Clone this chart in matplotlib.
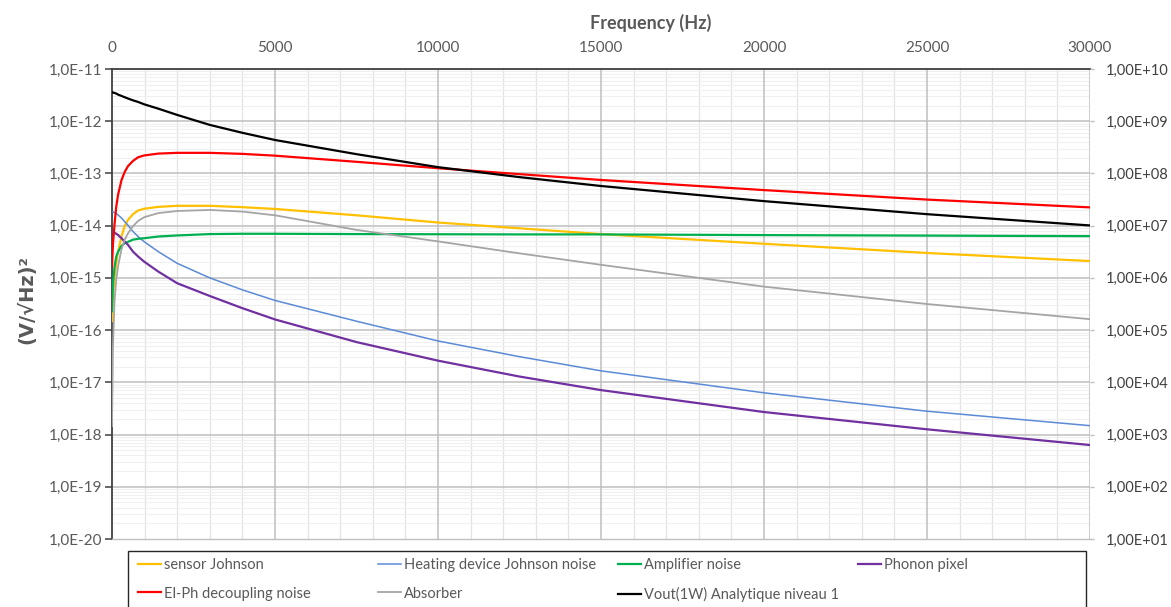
import math
import matplotlib
matplotlib.use("Agg")
import matplotlib.pyplot as plt
from matplotlib.ticker import FixedLocator, FuncFormatter, LogLocator, NullFormatter, MultipleLocator
from matplotlib.patches import Rectangle

plt.rcParams['font.family'] = ['Lato', 'DejaVu Sans']

# ---------------- data ----------------
freq = [0, 30, 80, 130, 185, 290, 390, 490, 645, 800, 985, 1420, 2000, 3000, 4000,
        5000, 7500, 10000, 12500, 15000, 20000, 25000, 30000]

sensor_johnson = [1.48e-16, 4.4e-16, 1.07e-15, 1.91e-15, 3.16e-15, 6.2e-15, 9.8e-15, 1.29e-14,
                  1.66e-14, 1.95e-14, 2.11e-14, 2.29e-14, 2.40e-14, 2.40e-14, 2.26e-14,
                  2.09e-14, 1.58e-14, 1.15e-14, 8.9e-15, 6.9e-15, 4.5e-15, 3.0e-15, 2.1e-15]
heating_johnson = [1.86e-14, 1.84e-14, 1.78e-14, 1.70e-14, 1.60e-14, 1.41e-14, 1.19e-14, 1.02e-14,
                   7.7e-15, 6.2e-15, 4.94e-15, 3.18e-15, 1.90e-15, 1.0e-15, 5.9e-16,
                   3.7e-16, 1.48e-16, 6.2e-17, 3.1e-17, 1.66e-17, 6.3e-18, 2.8e-18, 1.48e-18]
amplifier_noise = [2.3e-16, 7.9e-16, 1.66e-15, 2.57e-15, 3.16e-15, 4.1e-15, 4.6e-15, 4.9e-15,
                   5.4e-15, 5.6e-15, 5.75e-15, 6.2e-15, 6.5e-15, 6.9e-15, 7.0e-15,
                   7.0e-15, 6.9e-15, 6.85e-15, 6.8e-15, 6.8e-15, 6.6e-15, 6.45e-15, 6.3e-15]
phonon_pixel = [7.7e-15, 7.6e-15, 7.3e-15, 7.0e-15, 6.64e-15, 5.75e-15, 4.94e-15, 4.3e-15,
                3.18e-15, 2.57e-15, 2.05e-15, 1.32e-15, 7.9e-16, 4.5e-16, 2.63e-16,
                1.6e-16, 5.9e-17, 2.6e-17, 1.29e-17, 7.1e-18, 2.7e-18, 1.26e-18, 6.3e-19]
elph_noise = [1.66e-15, 4.5e-15, 1.11e-14, 2.29e-14, 3.89e-14, 7.41e-14, 1.07e-13, 1.38e-13,
              1.74e-13, 2.04e-13, 2.21e-13, 2.40e-13, 2.48e-13, 2.48e-13, 2.37e-13,
              2.19e-13, 1.67e-13, 1.26e-13, 9.7e-14, 7.5e-14, 4.8e-14, 3.16e-14, 2.24e-14]
absorber = [1.45e-18, 5.0e-17, 3.8e-16, 9.1e-16, 1.66e-15, 3.5e-15, 5.4e-15, 7.1e-15,
            9.8e-15, 1.23e-14, 1.45e-14, 1.74e-14, 1.91e-14, 2.0e-14, 1.86e-14,
            1.58e-14, 8.3e-15, 5.0e-15, 2.95e-15, 1.78e-15, 6.8e-16, 3.16e-16, 1.62e-16]
# secondary (right) axis series
vout = [3.58e9, 3.55e9, 3.47e9, 3.39e9, 3.24e9, 3.05e9, 2.88e9, 2.72e9,
        2.51e9, 2.34e9, 2.11e9, 1.74e9, 1.32e9, 8.5e8, 6.0e8,
        4.37e8, 2.34e8, 1.32e8, 8.5e7, 5.75e7, 2.95e7, 1.66e7, 1.01e7]

labels = ["sensor Johnson", "Heating device Johnson noise", "Amplifier noise", "Phonon pixel",
          "El-Ph decoupling noise", "Absorber", "Vout(1W) Analytique niveau 1"]
x_ticks = [0, 5000, 10000, 15000, 20000, 25000, 30000]

# ---------------- figure ----------------
W, H = 1171, 607
fig = plt.figure(figsize=(W / 100, H / 100), dpi=100)
L, R, T, B = 112, 1090, 69, 539
ax = fig.add_axes([L / W, 1 - B / H, (R - L) / W, (B - T) / H])

TXT = "#595959"
series = [
    (sensor_johnson, "#FFC000", 1.6, labels[0]),
    (heating_johnson, "#5B8BD6", 1.1, labels[1]),
    (amplifier_noise, "#00B050", 1.6, labels[2]),
    (phonon_pixel, "#7030A0", 1.6, labels[3]),
    (elph_noise, "#FF0000", 1.6, labels[4]),
    (absorber, "#A5A5A5", 1.3, labels[5]),
]
handles = {}
for vals, col, lw, lab in series:
    ln, = ax.plot(freq, vals, color=col, lw=lw, label=lab, zorder=3)
    handles[lab] = ln

ax.set_yscale('log')
ax.set_ylim(1e-20, 1e-11)
ax.set_xlim(0, 30000)

ax2 = ax.twinx()
ln, = ax2.plot(freq, vout, color="#000000", lw=1.6, label=labels[6], zorder=3)
handles[labels[6]] = ln
ax2.set_yscale('log')
ax2.set_ylim(1e1, 1e10)

# ticks / grid
ax.xaxis.set_major_locator(FixedLocator(x_ticks))
ax.xaxis.set_minor_locator(MultipleLocator(1000))
ax.yaxis.set_major_locator(LogLocator(base=10, numticks=20))
ax.yaxis.set_minor_locator(LogLocator(base=10, subs=range(2, 10), numticks=200))
ax.yaxis.set_minor_formatter(NullFormatter())
ax.grid(which='minor', axis='x', color="#E3E3E3", lw=0.9, zorder=0)
ax.grid(which='minor', axis='y', color="#F0F0F0", lw=0.8, zorder=0)
ax.set_axisbelow(True)
# major grid drawn over the minor grid (spreadsheet style)
for xv in x_ticks[1:]:
    ax.axvline(xv, color="#BFBFBF", lw=1.1, zorder=1)
for yv in ax.get_yticks():
    if 1e-20 < yv <= 1e-11:
        ax.axhline(yv, color="#BFBFBF", lw=1.1, zorder=1)

ax.yaxis.set_major_formatter(FuncFormatter(lambda v, p: "1,0E%+03d" % round(math.log10(v))))
ax2.yaxis.set_major_locator(LogLocator(base=10, numticks=20))
ax2.yaxis.set_minor_locator(LogLocator(base=10, subs=range(2, 10), numticks=200))
ax2.yaxis.set_minor_formatter(NullFormatter())
ax2.yaxis.set_major_formatter(FuncFormatter(lambda v, p: "1,00E%+03d" % round(math.log10(v))))
ax.xaxis.set_major_formatter(FuncFormatter(lambda v, p: "%d" % v))

ax.tick_params(axis='x', which='both', top=True, bottom=False, labeltop=True, labelbottom=False,
               length=0, pad=10, labelsize=11, labelcolor=TXT)
ax.tick_params(axis='y', which='major', length=5, width=1.1, color="#404040", pad=2,
               labelsize=11, labelcolor=TXT)
ax.tick_params(axis='y', which='minor', length=0)
ax2.tick_params(axis='y', which='major', length=3, width=1, color="#BFBFBF", pad=8,
                labelsize=10.5, labelcolor="#404040")
ax2.tick_params(axis='y', which='minor', length=0)

for a in (ax, ax2):
    for s in a.spines.values():
        s.set_visible(False)
ax.spines['left'].set_visible(True)
ax.spines['left'].set_color("#404040")
ax.spines['left'].set_linewidth(1.3)
ax.spines['top'].set_visible(True)
ax.spines['top'].set_color("#404040")
ax.spines['top'].set_linewidth(1.3)
ax.spines['bottom'].set_visible(True)
ax.spines['bottom'].set_color("#BFBFBF")
ax.spines['bottom'].set_linewidth(1.0)

# axis labels
ax.xaxis.set_label_position('top')
ax.set_xlabel("Frequency (Hz)", fontsize=13, fontweight='bold', color=TXT)
ax.xaxis.set_label_coords((651 - L) / (R - L), (B - 23) / (B - T))
ax.xaxis.label.set_va('center')
ax.set_ylabel("(V/\u221aHz)\u00b2", fontsize=14, fontweight='bold', color=TXT,
              family=['DejaVu Sans'])
ax.yaxis.set_label_coords((27 - L) / (R - L), (B - 300) / (B - T))
ax.yaxis.label.set_va('center')

# legend frame + 4 equal-width columns (like the spreadsheet legend)
fig.patches.append(Rectangle((128 / W, 1 - 640 / H), (1086 - 128) / W, (640 - 551) / H,
                             transform=fig.transFigure, fill=False, edgecolor="#262626", lw=1.0))
columns = [[labels[0], labels[4]], [labels[1], labels[5]], [labels[2], labels[6]], [labels[3]]]
col_x = [138, 378, 618, 858]
for cx, labs in zip(col_x, columns):
    fig.legend([handles[l] for l in labs], labs, loc='upper left',
               bbox_to_anchor=(cx / W, 1 - 558 / H), frameon=False, fontsize=10.5,
               labelcolor=TXT, handlelength=1.58, handletextpad=0.2, labelspacing=1.0,
               borderpad=0, borderaxespad=0)

fig.savefig("out.png", dpi=100)
